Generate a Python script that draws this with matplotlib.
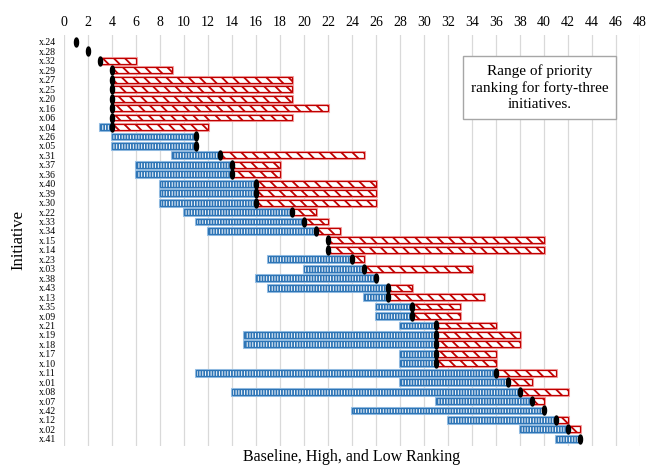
import numpy as np
import matplotlib
matplotlib.use('Agg')
import matplotlib.pyplot as plt
from matplotlib.path import Path

plt.rcParams['font.family'] = ['Liberation Serif', 'DejaVu Serif']
plt.rcParams['hatch.linewidth'] = 1.3

# initiatives listed top to bottom
names = ['x.24', 'x.28', 'x.32', 'x.29', 'x.27', 'x.25', 'x.20', 'x.16', 'x.06', 'x.04',
         'x.26', 'x.05', 'x.31', 'x.37', 'x.36', 'x.40', 'x.39', 'x.30', 'x.22', 'x.33',
         'x.34', 'x.15', 'x.14', 'x.23', 'x.03', 'x.38', 'x.43', 'x.13', 'x.35', 'x.09',
         'x.21', 'x.19', 'x.18', 'x.17', 'x.10', 'x.11', 'x.01', 'x.08', 'x.07', 'x.42',
         'x.12', 'x.02', 'x.41']
baseline = [1, 2, 3, 4, 4, 4, 4, 4, 4, 4,
            11, 11, 13, 14, 14, 16, 16, 16, 19, 20,
            21, 22, 22, 24, 25, 26, 27, 27, 29, 29,
            31, 31, 31, 31, 31, 36, 37, 38, 39, 40,
            41, 42, 43]
low = [1, 2, 3, 4, 4, 4, 4, 4, 4, 3,
       4, 4, 9, 6, 6, 8, 8, 8, 10, 11,
       12, 22, 22, 17, 20, 16, 17, 25, 26, 26,
       28, 15, 15, 28, 28, 11, 28, 14, 31, 24,
       32, 38, 41]
high = [1, 2, 6, 9, 19, 19, 19, 22, 19, 12,
        11, 11, 25, 18, 18, 26, 26, 26, 21, 22,
        23, 40, 40, 25, 34, 26, 29, 35, 33, 33,
        36, 38, 38, 36, 36, 41, 39, 42, 40, 40,
        42, 43, 43]

base = np.array(baseline)
lo = np.array(low)
hi = np.array(high)
y = np.arange(len(names))

fig = plt.figure(figsize=(6.61, 4.65), dpi=100)
ax = fig.add_axes([0.097, 0.041, 0.871, 0.884])

blue = '#2E75B6'
red = '#C00000'
h = 0.62

m = (base - lo) > 0
# light glow behind the bars
ax.barh(y[m], (base - lo)[m], left=lo[m], height=h, color='none',
        edgecolor='#9DC3E6', linewidth=2.2, zorder=2)
ax.barh(y[m], (base - lo)[m], left=lo[m], height=h, color='white',
        edgecolor=blue, hatch='||||||', linewidth=0.9, zorder=3)

m = (hi - base) > 0
ax.barh(y[m], (hi - base)[m], left=base[m], height=h, color='none',
        edgecolor='#F4A6A6', linewidth=2.2, zorder=2)
ax.barh(y[m], (hi - base)[m], left=base[m], height=h, color='white',
        edgecolor=red, hatch='\\\\\\', linewidth=0.9, zorder=3)

# capsule marker for the baseline
t = np.linspace(0, 2 * np.pi, 40)
capsule = Path(np.column_stack([0.45 * np.cos(t), np.sin(t)]))
ax.scatter(base, y, marker=capsule, s=42, color='black', zorder=4)

ax.set_xlim(0, 48)
ax.set_ylim(len(names) - 0.25, -0.75)
ax.set_xticks(np.arange(0, 49, 2))
ax.xaxis.tick_top()
ax.tick_params(axis='x', length=0, labelsize=10, pad=4)
ax.set_yticks(y)
ax.set_yticklabels(names)
ax.tick_params(axis='y', length=0, labelsize=7, pad=6)
ax.grid(axis='x', color='#d9d9d9', linewidth=0.9, zorder=0)
ax.set_axisbelow(True)
for s in ax.spines.values():
    s.set_visible(False)

ax.set_ylabel('Initiative', fontsize=12, labelpad=9)
ax.set_xlabel('Baseline, High, and Low Ranking', fontsize=11.5, labelpad=2)
ax.xaxis.set_label_position('bottom')

ax.text(0.826, 0.872, 'Range of priority\nranking for forty-three\ninitiatives.',
        transform=ax.transAxes, ha='center', va='center', fontsize=11,
        linespacing=1.3,
        bbox=dict(boxstyle='square,pad=0.5', facecolor='white', edgecolor='#a6a6a6', linewidth=1))

fig.savefig('out.png', dpi=100)
